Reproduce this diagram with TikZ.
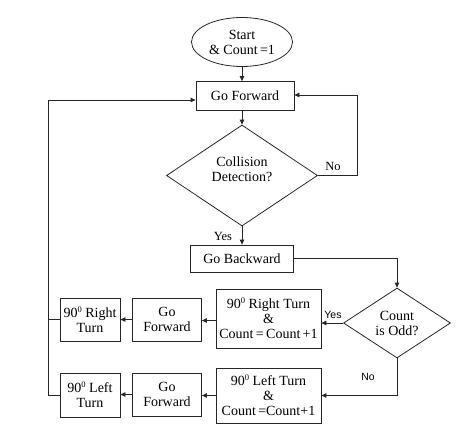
\documentclass[tikz,border=0pt]{standalone}
\usepackage{fontspec}
\setmainfont{Liberation Serif}
\newfontfamily\lsans{Liberation Sans}
\usetikzlibrary{shapes.geometric,arrows.meta,calc}
\newcommand{\supz}{\raisebox{0.38em}{\fontsize{8.5}{9}\selectfont 0}}
\begin{document}
\begin{tikzpicture}[x=1pt,y=-1pt,
  every node/.style={font=\fontsize{14}{15}\selectfont, align=center, text=black},
  ln/.style={draw=black!85, line width=0.8pt},
  boxn/.style={ln, rectangle, inner sep=0pt},
  ell/.style={ln, ellipse, inner sep=0pt, minimum width=101pt, minimum height=49pt},
  dia/.style={ln, diamond, inner sep=0pt},
  arr/.style={ln, -{Triangle[length=5pt,width=4.5pt]}},
  lbl/.style={font=\fontsize{12.5}{14}\selectfont},
  slbl/.style={font=\lsans\fontsize{10.5}{12}\selectfont}]
\useasboundingbox (0,0) rectangle (472,434);
\node[ell] (start) at (242,42) {Start\\\& Count{\,}=1};
\node[boxn, minimum width=98pt, minimum height=29pt] (gf1) at (245,96) {Go Forward};
\node[dia, aspect=1.5, minimum width=151pt, minimum height=101pt] (d1) at (242,175.5) {};
\node (d1t) at (242,169) {Collision\\Detection?};
\node[boxn, minimum width=103pt, minimum height=27pt] (gb) at (242,258.5) {Go Backward};
\node[dia, aspect=1.5, minimum width=107pt, minimum height=70pt] (d2) at (397,323) {Count\\is Odd?};
\node[boxn, minimum width=105pt, minimum height=59pt] (rt) at (268.5,318.5) {90\supz{} Right Turn\\\&\\Count{\,}={\,}Count{\,}+1};
\node[boxn, minimum width=105pt, minimum height=55pt] (lt) at (268.5,395.5) {90\supz{} Left Turn\\\&\\Count{\,}=Count+1};
\node[boxn, minimum width=69pt, minimum height=43pt] (gf2) at (167,319.5) {Go\\Forward};
\node[boxn, minimum width=69pt, minimum height=43pt] (gf3) at (167,394.5) {Go\\Forward};
\node[boxn, minimum width=60pt, minimum height=43pt] (r90) at (90,319.5) {90\supz{} Right\\Turn};
\node[boxn, minimum width=60pt, minimum height=44pt] (l90) at (90,395) {90\supz{} Left\\Turn};
% labels
\node[lbl] (yes1) at (223,236) {Yes};
\node[lbl] (no1) at (333,166) {No};
\node[slbl] (yes2) at (333,315) {Yes};
\node[slbl] (no2) at (368,377) {No};
% connectors
\draw[arr] (start.south) -- (start.south |- gf1.north);
\draw[arr] (d1.north |- gf1.south) -- (d1.north);
\draw[arr] (d1.south) -- (gb.north -| d1.south);
\draw[arr] (d1.east) -- ++(39,0) |- ([yshift=1pt]gf1.east);
\draw[arr] (gb.east) -| (d2.north);
\draw[arr] (d2.west) -- (d2.west -| rt.east);
\draw[arr] (d2.south) |- (lt.east);
\draw[arr] ([yshift=-2pt]rt.west) -- ([yshift=-2pt]rt.west -| gf2.east);
\draw[arr] (gf2.west) -- (r90.east);
\draw[arr] (lt.west) -- (lt.west -| gf3.east);
\draw[arr] (gf3.west) -- (gf3.west -| l90.east);
\draw[arr] (l90.west) -- ++(-11,0) coordinate (lb) |- ([yshift=-4pt]gf1.west);
\draw[ln] (r90.west) -- (r90.west -| lb);
\end{tikzpicture}
\end{document}
